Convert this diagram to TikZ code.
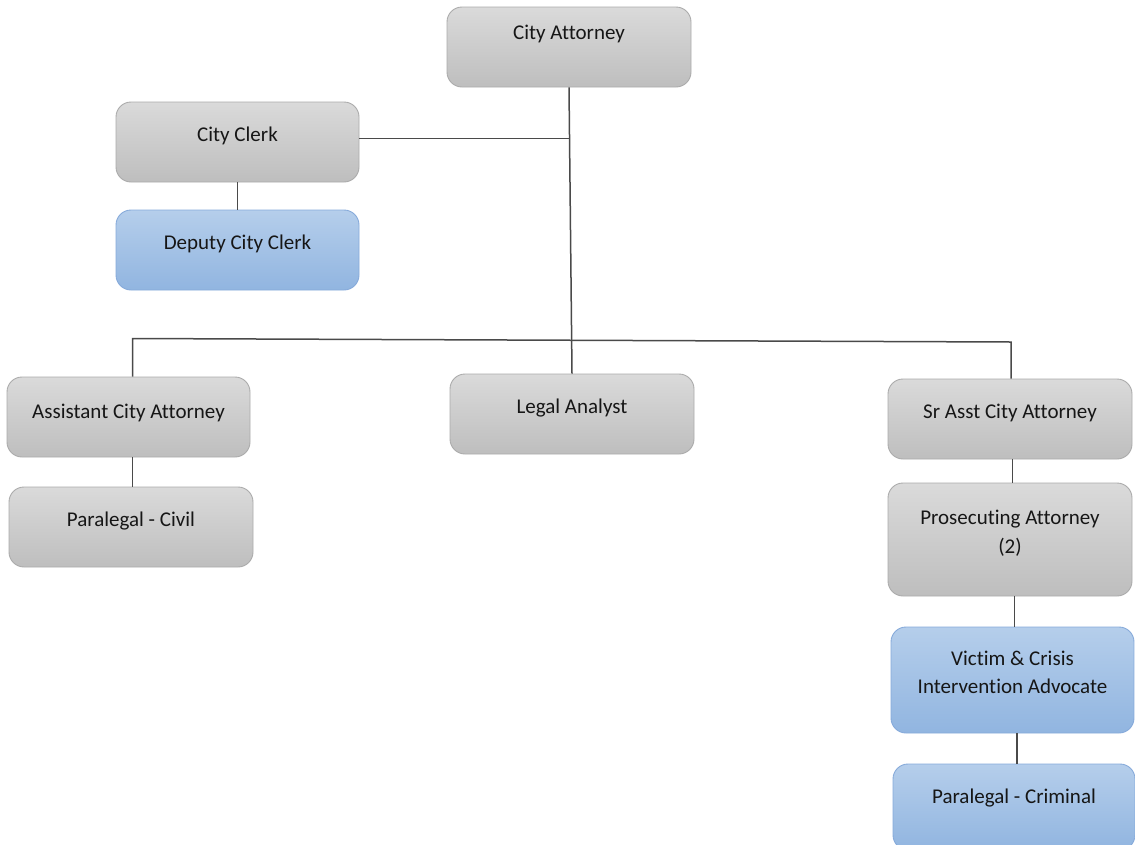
\documentclass[tikz,border=0pt]{standalone}
\usepackage{fontspec}
\setmainfont{Carlito}[Ligatures=NoCommon]
\usetikzlibrary{calc}

\definecolor{grayTop}{HTML}{DADADA}
\definecolor{grayBot}{HTML}{BEBEBE}
\definecolor{grayEdge}{HTML}{ABABAB}
\definecolor{blueTop}{HTML}{B5CEEB}
\definecolor{blueBot}{HTML}{91B5E0}
\definecolor{blueEdge}{HTML}{86AADA}
\definecolor{lineCol}{HTML}{4A4A4A}
\definecolor{txtCol}{HTML}{161616}

\tikzset{
  orgbox/.style={rectangle, rounded corners=15pt, line width=0.9pt,
    inner sep=0pt, minimum width=244pt, text=txtCol,
    font=\fontsize{21}{29.5}\selectfont},
  graybox/.style={orgbox, draw=grayEdge, top color=grayTop, bottom color=grayBot},
  bluebox/.style={orgbox, draw=blueEdge, top color=blueTop, bottom color=blueBot},
  conn/.style={draw=lineCol, line width=1.5pt}
}

\begin{document}
\begin{tikzpicture}[x=1pt, y=-1pt]
\useasboundingbox (0,0) rectangle (1135,844);

% boxes
\node[graybox, text height=32pt, text depth=48pt] (ca) at (569,47) {City Attorney};
\node[graybox, text height=39.5pt, text depth=40.5pt, minimum width=243pt] (cc) at (237.5,142) {City Clerk};
\node[bluebox, text height=39pt, text depth=41pt, minimum width=243pt] (dcc) at (237.5,250) {Deputy City Clerk};
\node[graybox, text height=41pt, text depth=39pt, minimum width=243pt] (aa) at (128.5,417) {Assistant City Attorney};
\node[graybox, text height=39pt, text depth=41pt] (pc) at (131,527) {Paralegal - Civil};
\node[graybox, text height=39pt, text depth=41pt] (la) at (572,414) {Legal Analyst};
\node[graybox, text height=39pt, text depth=41pt] (sr) at (1010,419) {Sr Asst City Attorney};
\node[graybox, text height=41pt, text depth=72pt] (pa) at (1010,539.5)
  {\begin{tabular}[t]{@{}c@{}}Prosecuting Attorney\\(2)\end{tabular}};
\node[bluebox, text height=38pt, text depth=68pt, minimum width=243pt] (vc) at (1012.5,680)
  {\fontsize{21}{28.7}\selectfont\begin{tabular}[t]{@{}c@{}}Victim \& Crisis\\Intervention Advocate\end{tabular}};
\node[bluebox, text height=39pt, text depth=47pt, minimum width=242pt] (pcr) at (1014,807) {Paralegal - Criminal};

% junctions
\coordinate (cj) at ($(ca.south)!0.178!(la.north)$);
\coordinate (busL) at (132.5,338.5);
\coordinate (busR) at (1011,342);

% connectors
\draw[conn] (ca.south) -- (la.north);
\draw[conn] (cj -| cc.east) -- (cj);
\draw[conn] (cc.south) -- (dcc.north);
\draw[conn] (aa.north -| busL) -- (busL) -- (busR) -- (sr.north -| busR);
\draw[conn] (aa.south -| busL) -- (pc.north -| busL);
\draw[conn] ([xshift=2.5pt]sr.south) -- ([xshift=2.5pt]pa.north);
\draw[conn] ([xshift=4.5pt]pa.south) -- ([xshift=2pt]vc.north);
\draw[conn] ([xshift=4.5pt]vc.south) -- ([xshift=3pt]pcr.north);
\end{tikzpicture}
\end{document}
